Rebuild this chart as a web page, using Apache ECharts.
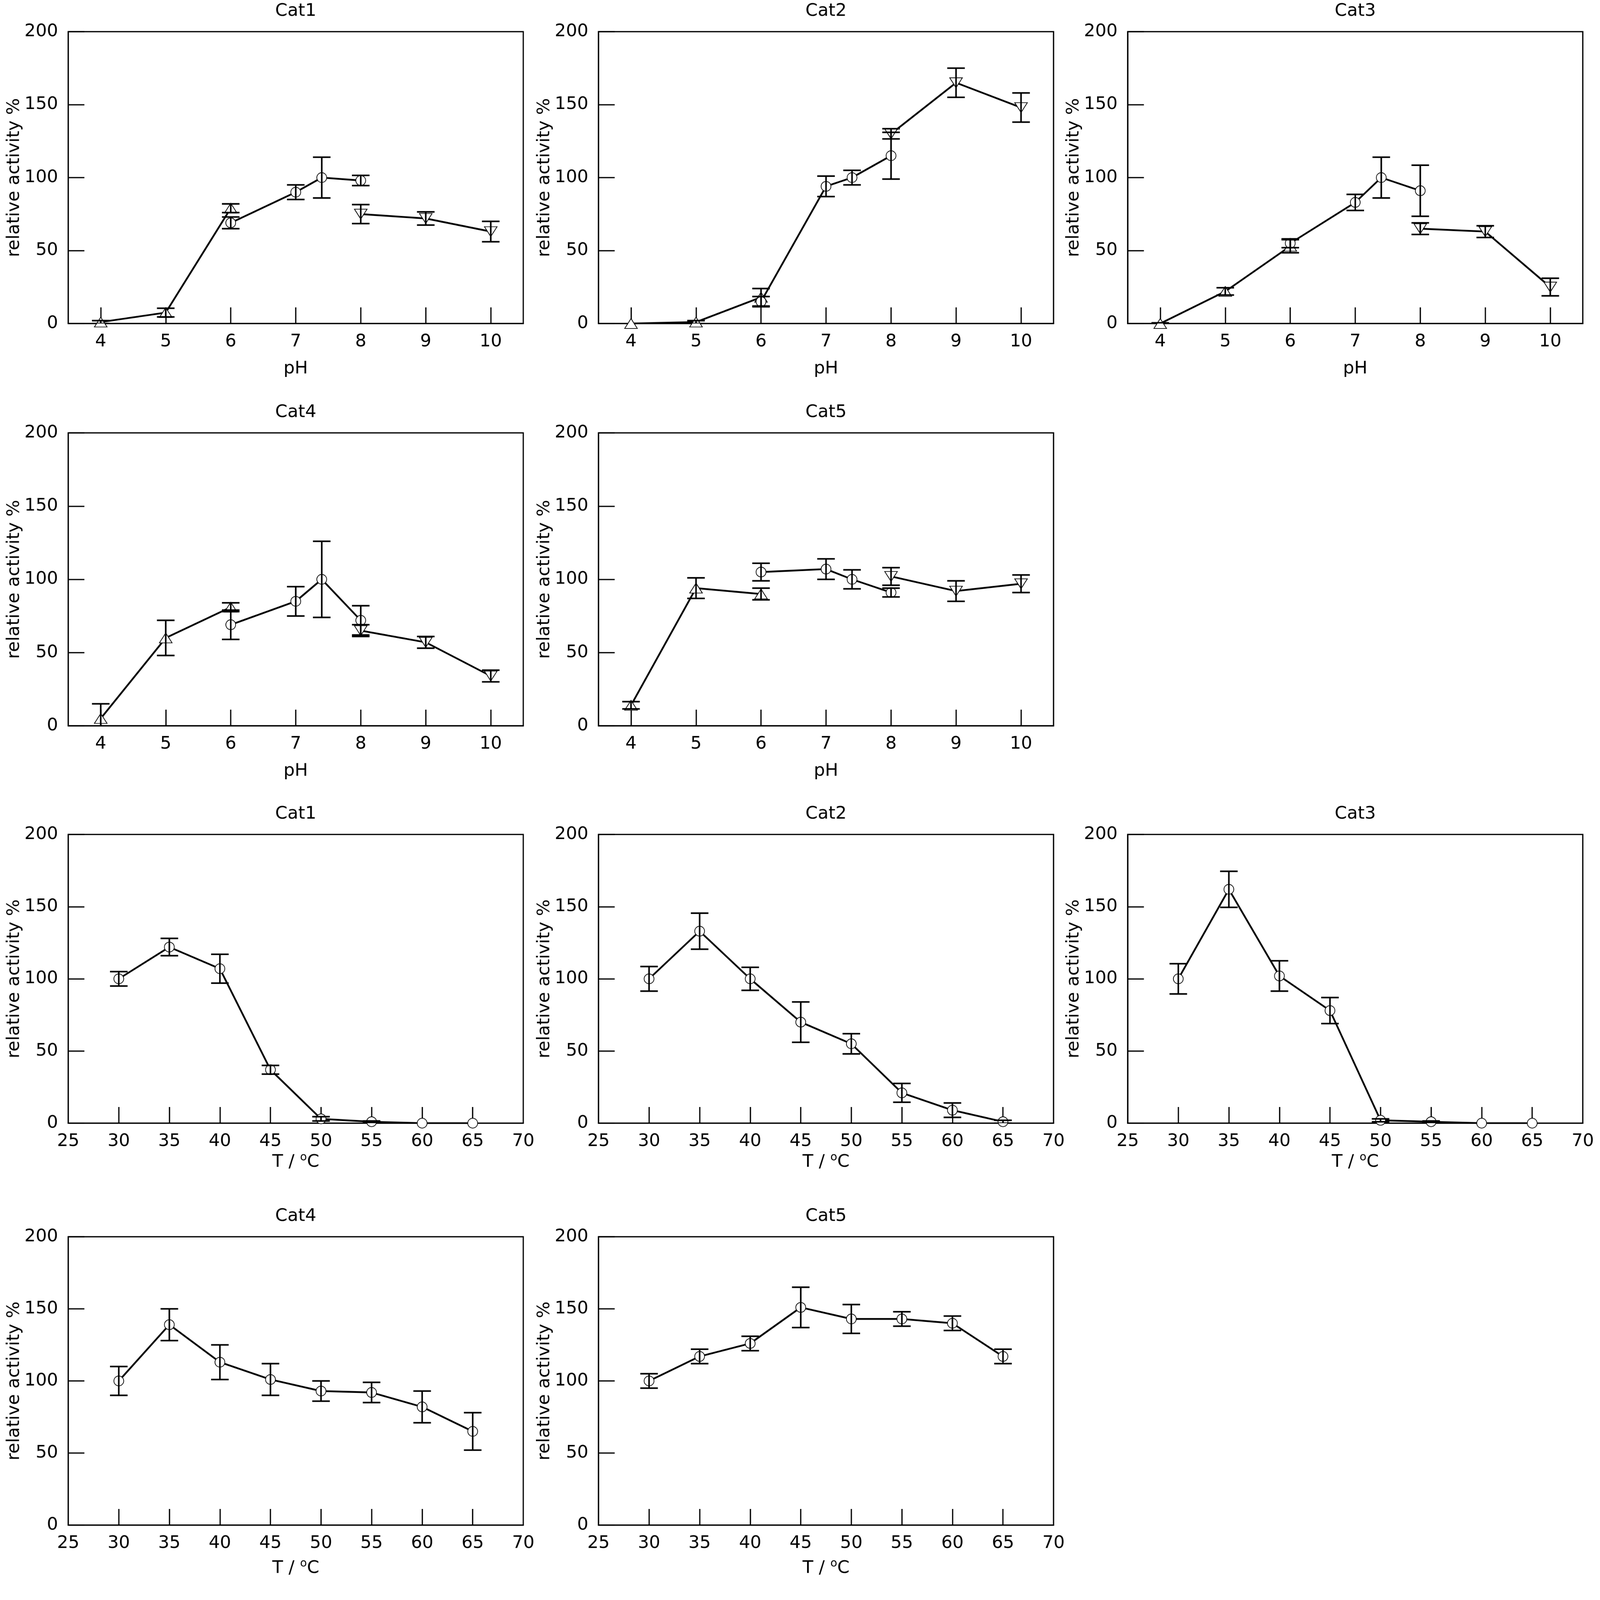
<!DOCTYPE html>
<html>
<head>
<meta charset="utf-8">
<script src="https://cdn.jsdelivr.net/npm/echarts@6/dist/echarts.min.js"></script>
<style>
  html, body { margin: 0; padding: 0; background: #fff; overflow: hidden; }
  #chart { width: 4550px; height: 4492px; transform-origin: 0 0; }
</style>
</head>
<body>
<div id="chart"></div>
<script>
// tick labels
var phTicks = [4, 5, 6, 7, 8, 9, 10];
var tempTicks = [30, 35, 40, 45, 50, 55, 60, 65];

// x positions of the three buffers (pH) and of the temperatures
var acidX = [4, 5, 6];          // triangle up
var midX = [6, 7, 7.4, 8];      // circle
var basicX = [8, 9, 10];        // triangle down
var tempX = [30, 35, 40, 45, 50, 55, 60, 65];

// pH series, value and error
var cat1Acid = [1, 7.5, 79],   cat1AcidErr = [1, 3, 3];
var cat1Mid = [69, 90, 100, 98], cat1MidErr = [4, 5, 14, 3.5];
var cat1Basic = [75, 72, 63],  cat1BasicErr = [6.5, 4.5, 7];

var cat2Acid = [0, 1, 18],     cat2AcidErr = [0, 1, 6];
var cat2Mid = [15, 94, 100, 115], cat2MidErr = [3.5, 7, 5, 16];
var cat2Basic = [130, 165, 148], cat2BasicErr = [3.5, 10, 10];

var cat3Acid = [0, 22, 53],    cat3AcidErr = [0.5, 2.5, 4.5];
var cat3Mid = [55, 83, 100, 91], cat3MidErr = [3, 5.5, 14, 17.5];
var cat3Basic = [65, 63, 25],  cat3BasicErr = [4, 4, 6];

var cat4Acid = [5, 60, 81],    cat4AcidErr = [10, 12, 3];
var cat4Mid = [69, 85, 100, 72], cat4MidErr = [10, 10, 26, 10];
var cat4Basic = [65, 57, 34],  cat4BasicErr = [4, 4, 4];

var cat5Acid = [14, 94, 90],   cat5AcidErr = [2.5, 7, 4];
var cat5Mid = [105, 107, 100, 91], cat5MidErr = [6, 7, 6.5, 3];
var cat5Basic = [102, 92, 97], cat5BasicErr = [6, 7, 6];

// temperature series
var cat1Temp = [100, 122, 107, 37, 3, 1, 0, 0],       cat1TempErr = [5, 6, 10, 3, 1.5, 0.5, 0, 0];
var cat2Temp = [100, 133, 100, 70, 55, 21, 9, 1],     cat2TempErr = [8.5, 12.5, 8, 14, 7, 6.5, 5, 1];
var cat3Temp = [100, 162, 102, 78, 2, 1, 0, 0],       cat3TempErr = [10.5, 12.5, 10.5, 9, 1, 0.5, 0, 0];
var cat4Temp = [100, 139, 113, 101, 93, 92, 82, 65],  cat4TempErr = [10, 11, 12, 11, 7, 7, 11, 13];
var cat5Temp = [100, 117, 126, 151, 143, 143, 140, 117], cat5TempErr = [5, 5, 5, 14, 10, 5, 5, 5];

// layout (reference pixels)
var colLeft = [194, 1702, 3207];
var rowTop = [90, 1231, 2373, 3517];
var rowH = [830, 833, 821, 820];
var plotW = 1294;
var FONT = 'DejaVu Sans';
var FS = 50;

var UP = 'emptyTriangle';
var panels = [
  { title: 'Cat1', kind: 'pH', row: 0, col: 0, groups: [
    [acidX, cat1Acid, cat1AcidErr, UP, 0], [midX, cat1Mid, cat1MidErr, 'emptyCircle', 0], [basicX, cat1Basic, cat1BasicErr, UP, 180]] },
  { title: 'Cat2', kind: 'pH', row: 0, col: 1, groups: [
    [acidX, cat2Acid, cat2AcidErr, UP, 0], [midX, cat2Mid, cat2MidErr, 'emptyCircle', 0], [basicX, cat2Basic, cat2BasicErr, UP, 180]] },
  { title: 'Cat3', kind: 'pH', row: 0, col: 2, groups: [
    [acidX, cat3Acid, cat3AcidErr, UP, 0], [midX, cat3Mid, cat3MidErr, 'emptyCircle', 0], [basicX, cat3Basic, cat3BasicErr, UP, 180]] },
  { title: 'Cat4', kind: 'pH', row: 1, col: 0, groups: [
    [acidX, cat4Acid, cat4AcidErr, UP, 0], [midX, cat4Mid, cat4MidErr, 'emptyCircle', 0], [basicX, cat4Basic, cat4BasicErr, UP, 180]] },
  { title: 'Cat5', kind: 'pH', row: 1, col: 1, groups: [
    [acidX, cat5Acid, cat5AcidErr, UP, 0], [midX, cat5Mid, cat5MidErr, 'emptyCircle', 0], [basicX, cat5Basic, cat5BasicErr, UP, 180]] },
  { title: 'Cat1', kind: 'T', row: 2, col: 0, groups: [[tempX, cat1Temp, cat1TempErr, 'emptyCircle', 0]] },
  { title: 'Cat2', kind: 'T', row: 2, col: 1, groups: [[tempX, cat2Temp, cat2TempErr, 'emptyCircle', 0]] },
  { title: 'Cat3', kind: 'T', row: 2, col: 2, groups: [[tempX, cat3Temp, cat3TempErr, 'emptyCircle', 0]] },
  { title: 'Cat4', kind: 'T', row: 3, col: 0, groups: [[tempX, cat4Temp, cat4TempErr, 'emptyCircle', 0]] },
  { title: 'Cat5', kind: 'T', row: 3, col: 1, groups: [[tempX, cat5Temp, cat5TempErr, 'emptyCircle', 0]] }
];

var textBase = { fontFamily: FONT, fontSize: FS, color: '#000' };

// error bar: vertical line and two caps
function renderErr(params, api) {
  var x = api.value(0), lo = api.value(1), hi = api.value(2);
  if (hi - lo <= 0) return null;
  var a = api.coord([x, lo]), b = api.coord([x, hi]);
  var hw = 25;
  var st = { stroke: '#000', lineWidth: 4.5 };
  return { type: 'group', children: [
    { type: 'line', shape: { x1: a[0], y1: a[1], x2: b[0], y2: b[1] }, style: st },
    { type: 'line', shape: { x1: a[0] - hw, y1: a[1], x2: a[0] + hw, y2: a[1] }, style: st },
    { type: 'line', shape: { x1: b[0] - hw, y1: b[1], x2: b[0] + hw, y2: b[1] }, style: st }
  ] };
}

var grids = [], xAxes = [], yAxes = [], titles = [], series = [];

panels.forEach(function (p, i) {
  var left = colLeft[p.col], top = rowTop[p.row], h = rowH[p.row];
  grids.push({ left: left, top: top, width: plotW, height: h, show: true,
    borderColor: '#000', borderWidth: 3.5, backgroundColor: 'transparent' });

  titles.push({ text: p.title, left: left + plotW / 2, top: top - 83, textAlign: 'center', padding: 0,
    textStyle: { fontFamily: FONT, fontSize: FS, fontWeight: 'normal', color: '#000' } });

  var axisLine = { show: true, lineStyle: { color: '#000', width: 3.5 } };
  var tick = { show: true, inside: true, length: 46, lineStyle: { color: '#000', width: 3.5 } };

  if (p.kind === 'pH') {
    xAxes.push({ gridIndex: i, type: 'value', min: 3.5, max: 10.5,
      axisLine: axisLine,
      axisTick: Object.assign({ customValues: phTicks }, tick),
      axisLabel: { customValues: phTicks, margin: 27, fontFamily: FONT, fontSize: FS, color: '#000' },
      splitLine: { show: false },
      name: 'pH', nameLocation: 'middle', nameGap: 104, nameTextStyle: textBase });
  } else {
    xAxes.push({ gridIndex: i, type: 'value', min: 25, max: 70, interval: 5,
      axisLine: axisLine,
      axisTick: Object.assign({ customValues: tempTicks }, tick),
      axisLabel: { margin: 27, fontFamily: FONT, fontSize: FS, color: '#000' },
      splitLine: { show: false },
      name: 'T / {sup|o}C', nameLocation: 'middle', nameGap: p.row === 2 ? 82 : 94,
      nameTextStyle: { fontFamily: FONT, fontSize: FS, color: '#000', lineHeight: 58,
        rich: { sup: { fontFamily: FONT, fontSize: 32, color: '#000', verticalAlign: 'top', lineHeight: 30 } } } });
  }

  yAxes.push({ gridIndex: i, type: 'value', min: 0, max: 200, interval: 50,
    axisLine: axisLine, axisTick: tick,
    axisLabel: { margin: 29, fontFamily: FONT, fontSize: FS, color: '#000' },
    splitLine: { show: false },
    name: 'relative activity %', nameLocation: 'middle', nameGap: 128, nameTextStyle: textBase });

  p.groups.forEach(function (g) {
    var xs = g[0], ys = g[1], es = g[2];
    series.push({
      type: 'line', xAxisIndex: i, yAxisIndex: i, z: 2,
      data: xs.map(function (x, k) { return [x, ys[k]]; }),
      symbol: g[3], symbolRotate: g[4],
      symbolSize: g[3] === 'emptyCircle' ? 28 : [36, 28],
      showAllSymbol: true,
      lineStyle: { color: '#000', width: 5 },
      itemStyle: { color: '#000', borderColor: '#000', borderWidth: 4 },
      silent: true
    });
    series.push({
      type: 'custom', xAxisIndex: i, yAxisIndex: i, z: 3, clip: true,
      data: xs.map(function (x, k) { return [x, ys[k] - es[k], ys[k] + es[k]]; }),
      encode: { x: 0, y: [1, 2] },
      renderItem: renderErr,
      silent: true
    });
  });
});

// fit the 4550x4492 drawing into the actual viewport
var el = document.getElementById('chart');
var s = Math.min(window.innerWidth / 4550, window.innerHeight / 4492);
if (isFinite(s) && s > 0 && Math.abs(s - 1) > 0.001) {
  el.style.transform = 'scale(' + s + ')';
}

var chart = echarts.init(el, null, { renderer: 'canvas' });
chart.setOption({
  animation: false,
  backgroundColor: '#fff',
  title: titles,
  grid: grids,
  xAxis: xAxes,
  yAxis: yAxes,
  series: series
});
</script>
</body>
</html>
